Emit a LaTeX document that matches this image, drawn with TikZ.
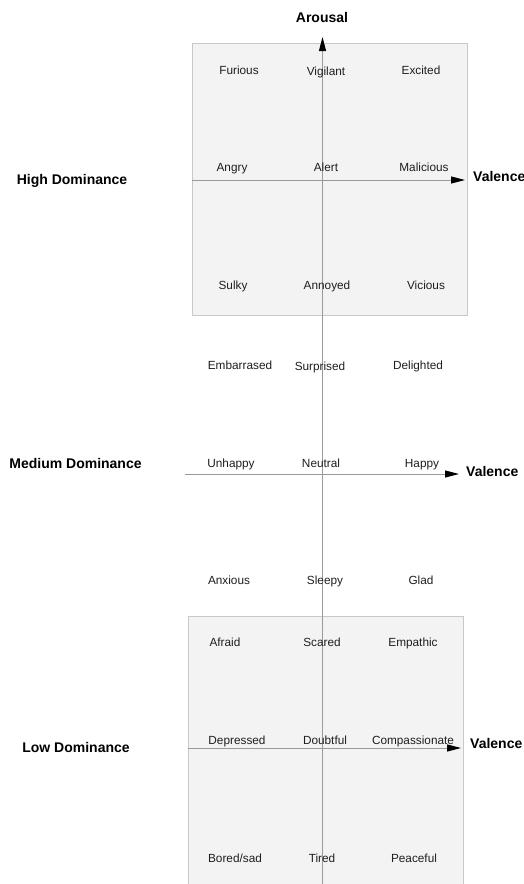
\documentclass[tikz,border=0pt]{standalone}
\usepackage{fontspec}
\setmainfont{Liberation Sans}
\usetikzlibrary{arrows.meta}
\definecolor{boxfill}{HTML}{F3F3F3}
\definecolor{boxline}{HTML}{C8C8C8}
\definecolor{axisgray}{HTML}{9A9A9A}
\definecolor{txt}{HTML}{1E1E1E}
\tikzset{
  emo/.style={font=\fontsize{11.8}{13}\selectfont, text=txt, inner sep=0pt, text height=8.5pt, text depth=2.5pt, anchor=center, yshift=-1pt},
  bold/.style={font=\fontsize{14}{16}\selectfont\bfseries, text=black, inner sep=0pt, text height=10pt, text depth=3pt, yshift=-1pt},
  panel/.style={fill=boxfill, draw=boxline, line width=0.8pt},
  axis/.style={draw=axisgray, line width=1pt, -{Triangle[length=14pt,width=7pt,color=black]}}
}
\begin{document}
\begin{tikzpicture}[x=1pt,y=-1pt]
\useasboundingbox (0,0) rectangle (524,884);
% panels
\draw[panel] (192,43) rectangle (467,315);
\draw[panel] (188,616) rectangle (463,890);
% axes coordinates
\coordinate (vb) at (322.5,884);
\coordinate (vt) at (322.5,37);
\coordinate (h1s) at (192,180);
\coordinate (h1e) at (465,180);
\coordinate (h2s) at (185,474);
\coordinate (h2e) at (459,474);
\coordinate (h3s) at (188,748);
\coordinate (h3e) at (461,748);
\draw[axis] (h1s) -- (h1e);
\draw[axis] (h2s) -- (h2e);
\draw[axis] (h3s) -- (h3e);
\draw[axis] (vb) -- (vt);
% axis labels
\node[bold] (arousal) at (322,18) {Arousal};
\node[bold, anchor=west] (val1) at (473,177) {Valence};
\node[bold, anchor=west] (val2) at (466,472) {Valence};
\node[bold, anchor=west] (val3) at (470,744) {Valence};
\node[bold] (hd) at (72,180) {High Dominance};
\node[bold] (md) at (75.5,464) {Medium Dominance};
\node[bold] (ld) at (76,748) {Low Dominance};
% emotion labels
\node[emo] (furious) at (239,70) {Furious};
\node[emo] (vigilant) at (326,71) {Vigilant};
\node[emo] (excited) at (421,70) {Excited};
\node[emo] (angry) at (232,167) {Angry};
\node[emo] (alert) at (326,167) {Alert};
\node[emo] (malicious) at (424,167) {Malicious};
\node[emo] (sulky) at (233,285) {Sulky};
\node[emo] (annoyed) at (327,285) {Annoyed};
\node[emo] (vicious) at (426,285) {Vicious};
\node[emo] (embarrassed) at (240,365) {Embarrased};
\node[emo] (surprised) at (320,366) {Surprised};
\node[emo] (delighted) at (418,365) {Delighted};
\node[emo] (unhappy) at (231,463) {Unhappy};
\node[emo] (neutral) at (321,463) {Neutral};
\node[emo] (happy) at (422,463) {Happy};
\node[emo] (anxious) at (229,580) {Anxious};
\node[emo] (sleepy) at (325,580) {Sleepy};
\node[emo] (glad) at (421,580) {Glad};
\node[emo] (afraid) at (225,642) {Afraid};
\node[emo] (scared) at (322,642) {Scared};
\node[emo] (empathic) at (413,642) {Empathic};
\node[emo] (depressed) at (237,740) {Depressed};
\node[emo] (doubtful) at (325,740) {Doubtful};
\node[emo] (compassionate) at (413,740) {Compassionate};
\node[emo] (bored) at (235,858) {Bored/sad};
\node[emo] (tired) at (322,858) {Tired};
\node[emo] (peaceful) at (414,858) {Peaceful};
\end{tikzpicture}
\end{document}
